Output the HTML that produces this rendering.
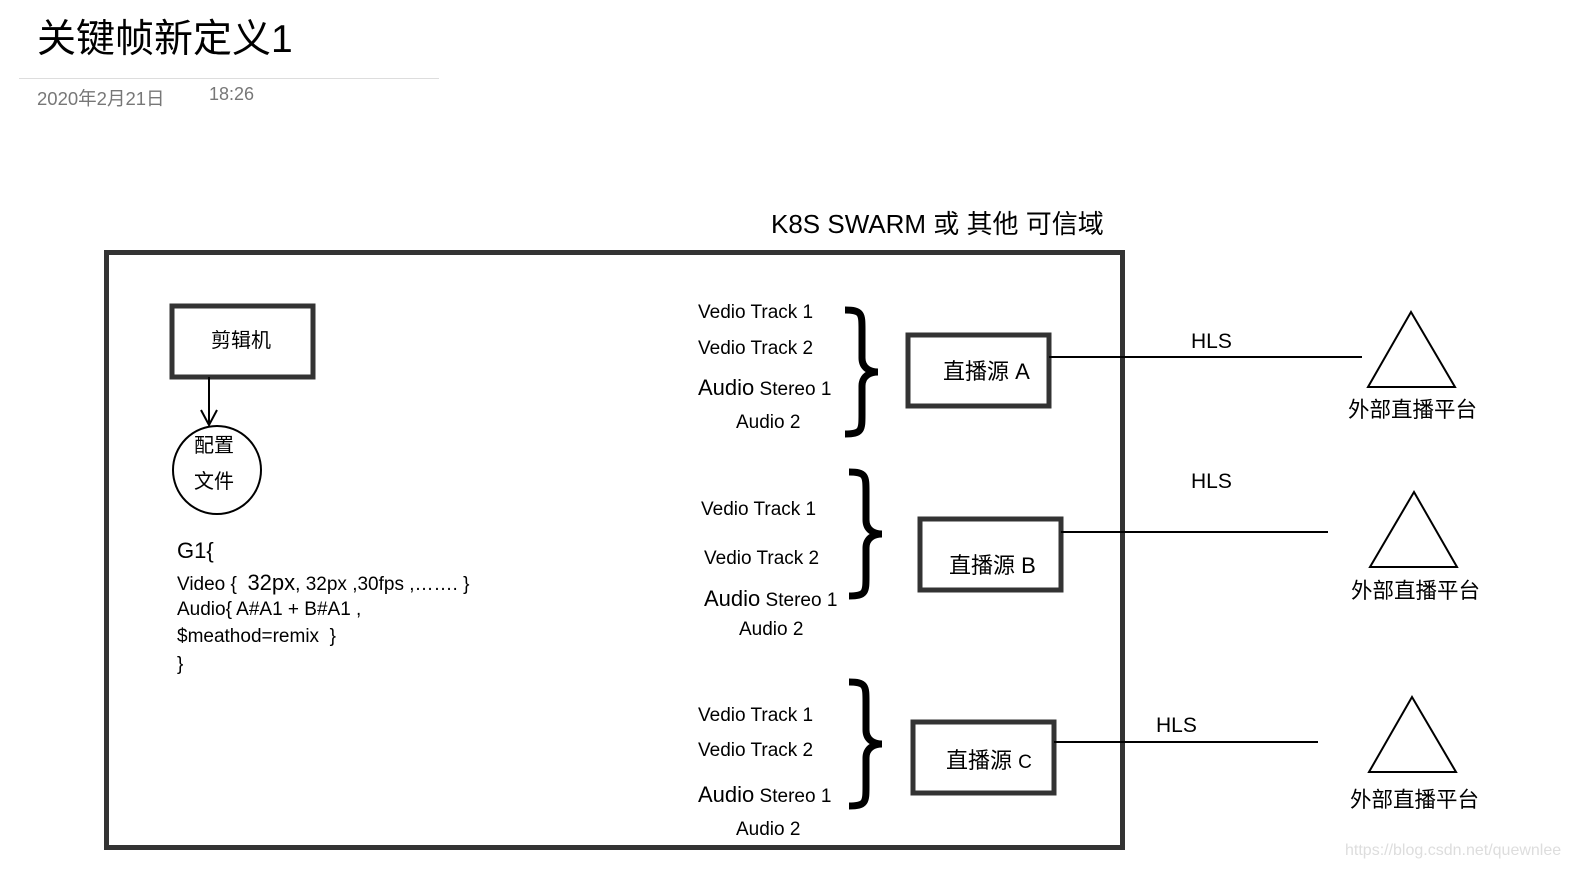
<!DOCTYPE html>
<html><head><meta charset="utf-8"><style>
body{margin:0;width:1575px;height:874px;background:#fff;position:relative;overflow:hidden;font-family:"Liberation Sans","Noto Sans CJK SC",sans-serif;color:#000}
.t{position:absolute;white-space:nowrap;line-height:1}
</style></head><body>
<div class="t" style="left:37px;top:20px;font-size:39px">关键帧新定义1</div>
<div style="position:absolute;left:19px;top:78px;width:420px;height:1px;background:#ddd"></div>
<div class="t" style="left:37px;top:90px;font-size:18.5px;color:#777">2020年2月21日</div>
<div class="t" style="left:209px;top:85px;font-size:18px;color:#777">18:26</div>
<div class="t" style="left:771px;top:211px;font-size:26px">K8S SWARM 或 其他 可信域</div>

<svg width="1575" height="874" style="position:absolute;left:0;top:0" xmlns="http://www.w3.org/2000/svg">
<g fill="none" stroke="#333">
<rect x="106.5" y="252.5" width="1016" height="595" stroke-width="5"/>
<rect x="172" y="306" width="141" height="71" stroke-width="5"/>
<rect x="908" y="335" width="141" height="71" stroke-width="5"/>
<rect x="920" y="519" width="141" height="71" stroke-width="5"/>
<rect x="913" y="722" width="141" height="71" stroke-width="5"/>
</g>
<g stroke="#000" fill="none" stroke-width="2">
<line x1="209" y1="377" x2="209" y2="425"/>
<polyline points="201,410 209,425 217,410"/>
<circle cx="217" cy="470" r="44"/>
<line x1="1049" y1="357" x2="1362" y2="357"/>
<line x1="1061" y1="532" x2="1328" y2="532"/>
<line x1="1054" y1="742" x2="1318" y2="742"/>
<polygon points="1411,312 1368,387 1455,387"/>
<polygon points="1414,492 1370,567 1457,567"/>
<polygon points="1412,697 1369,772 1456,772"/>
</g>
<g stroke="#000" fill="none" stroke-width="7">
<path d="M845 310 C862 310 862 314 862 330 L862 358 C862 368 870 372 878 372 C870 372 862 376 862 386 L862 414 C862 430 862 434 845 434"/>
<path d="M849 472 C866 472 866 476 866 492 L866 520 C866 530 874 534 882 534 C874 534 866 538 866 548 L866 576 C866 592 866 596 849 596"/>
<path d="M849 682 C866 682 866 686 866 702 L866 730 C866 740 874 744 882 744 C874 744 866 748 866 758 L866 786 C866 802 866 806 849 806"/>
</g>
</svg>

<div class="t" style="left:211px;top:331px;font-size:20px">剪辑机</div>
<div class="t" style="left:194px;top:436px;font-size:20px">配置</div>
<div class="t" style="left:194px;top:472px;font-size:20px">文件</div>
<div class="t" style="left:177px;top:540px;font-size:22px">G1{</div>
<div class="t" style="left:177px;top:572px;font-size:19px">Video {&nbsp;&nbsp;<span style="font-size:22px">32px</span>, 32px ,30fps ,……. }</div>
<div class="t" style="left:177px;top:600px;font-size:19px">Audio{ A#A1 + B#A1 ,</div>
<div class="t" style="left:177px;top:627px;font-size:19px">$meathod=remix&nbsp;&nbsp;}</div>
<div class="t" style="left:177px;top:655px;font-size:19px">}</div>

<div class="t" style="left:698px;top:303px;font-size:19px">Vedio Track 1</div>
<div class="t" style="left:698px;top:339px;font-size:19px">Vedio Track 2</div>
<div class="t" style="left:698px;top:377px;font-size:19px"><span style="font-size:22px">Audio</span> Stereo 1</div>
<div class="t" style="left:736px;top:413px;font-size:19px">Audio 2</div>
<div class="t" style="left:943px;top:361px;font-size:22px">直播源 A</div>

<div class="t" style="left:701px;top:500px;font-size:19px">Vedio Track 1</div>
<div class="t" style="left:704px;top:549px;font-size:19px">Vedio Track 2</div>
<div class="t" style="left:704px;top:588px;font-size:19px"><span style="font-size:22px">Audio</span> Stereo 1</div>
<div class="t" style="left:739px;top:620px;font-size:19px">Audio 2</div>
<div class="t" style="left:949px;top:555px;font-size:22px">直播源 B</div>

<div class="t" style="left:698px;top:706px;font-size:19px">Vedio Track 1</div>
<div class="t" style="left:698px;top:741px;font-size:19px">Vedio Track 2</div>
<div class="t" style="left:698px;top:784px;font-size:19px"><span style="font-size:22px">Audio</span> Stereo 1</div>
<div class="t" style="left:736px;top:820px;font-size:19px">Audio 2</div>
<div class="t" style="left:946px;top:750px;font-size:22px">直播源 <span style="font-size:19px">C</span></div>

<div class="t" style="left:1191px;top:331px;font-size:21px">HLS</div>
<div class="t" style="left:1191px;top:471px;font-size:21px">HLS</div>
<div class="t" style="left:1156px;top:715px;font-size:21px">HLS</div>
<div class="t" style="left:1348px;top:400px;font-size:21.5px">外部直播平台</div>
<div class="t" style="left:1351px;top:581px;font-size:21.5px">外部直播平台</div>
<div class="t" style="left:1350px;top:790px;font-size:21.5px">外部直播平台</div>
<div class="t" style="left:1345px;top:843px;font-size:16px;color:#ddd">https://blog.csdn.net/quewnlee</div>
</body></html>
